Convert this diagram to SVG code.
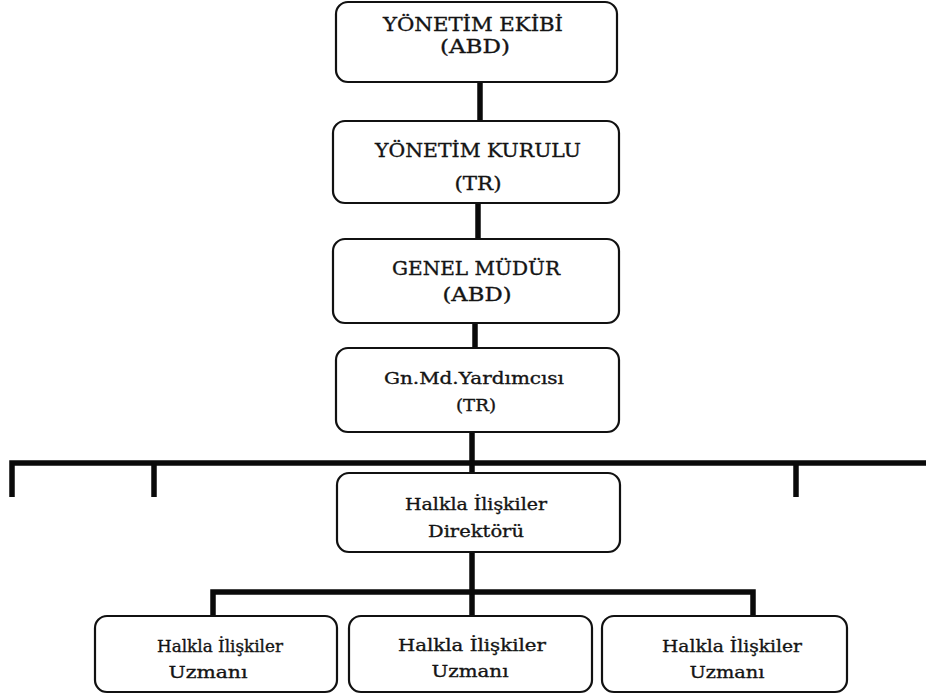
<svg xmlns="http://www.w3.org/2000/svg" width="926" height="697" viewBox="0 0 926 697">
  <style>
    .box { fill: #ffffff; stroke: #111111; stroke-width: 2.2; }
    .link { fill: none; stroke: #0a0a0a; stroke-width: 5.5; stroke-linejoin: miter; stroke-linecap: butt; }
    .t { font-family: "DejaVu Serif", "Liberation Serif", serif; fill: #141414; stroke: #141414; stroke-width: 0.35; text-anchor: middle; }
    .big { font-size: 19px; }
    .mid { font-size: 17px; }
  </style>
  <rect x="0" y="0" width="926" height="697" fill="#ffffff"/>

  <!-- connectors -->
  <g id="connectors">
    <path class="link" d="M480 82 V121"/>
    <path class="link" d="M478 203 V239"/>
    <path class="link" d="M475 323 V348"/>
    <path class="link" d="M472 432 V473"/>
    <path class="link" d="M12 497 V463 H926"/>
    <path class="link" d="M154 463 V497"/>
    <path class="link" d="M796 463 V497"/>
    <path class="link" d="M472 552 V616"/>
    <path class="link" d="M213 616 V592 H753 V616"/>
  </g>

  <g id="yonetim-ekibi">
    <rect class="box" x="336" y="2" width="281" height="80" rx="12"/>
    <text class="t big" x="473" y="31" textLength="180" lengthAdjust="spacingAndGlyphs">YÖNETİM EKİBİ</text>
    <text class="t big" x="475" y="53" textLength="70" lengthAdjust="spacingAndGlyphs">(ABD)</text>
  </g>

  <g id="yonetim-kurulu">
    <rect class="box" x="333" y="121" width="286" height="82" rx="12"/>
    <text class="t big" x="478" y="157" textLength="206" lengthAdjust="spacingAndGlyphs">YÖNETİM KURULU</text>
    <text class="t big" x="478" y="190" textLength="47" lengthAdjust="spacingAndGlyphs">(TR)</text>
  </g>

  <g id="genel-mudur">
    <rect class="box" x="333" y="239" width="286" height="84" rx="12"/>
    <text class="t big" x="476" y="275" textLength="168" lengthAdjust="spacingAndGlyphs">GENEL MÜDÜR</text>
    <text class="t big" x="477" y="301" textLength="69" lengthAdjust="spacingAndGlyphs">(ABD)</text>
  </g>

  <g id="gn-md-yardimcisi">
    <rect class="box" x="336" y="348" width="283" height="84" rx="12"/>
    <text class="t mid" x="474" y="384" textLength="180" lengthAdjust="spacingAndGlyphs">Gn.Md.Yardımcısı</text>
    <text class="t mid" x="476" y="411" textLength="40" lengthAdjust="spacingAndGlyphs">(TR)</text>
  </g>

  <g id="halkla-iliskiler-direktoru">
    <rect class="box" x="337" y="473" width="283" height="79" rx="12"/>
    <text class="t mid" x="476" y="510" textLength="142" lengthAdjust="spacingAndGlyphs">Halkla İlişkiler</text>
    <text class="t mid" x="476" y="537" textLength="96" lengthAdjust="spacingAndGlyphs">Direktörü</text>
  </g>

  <g id="uzman-1">
    <rect class="box" x="95" y="616" width="242" height="76" rx="12"/>
    <text class="t mid" x="220" y="652" textLength="126" lengthAdjust="spacingAndGlyphs">Halkla İlişkiler</text>
    <text class="t mid" x="208" y="678" textLength="79" lengthAdjust="spacingAndGlyphs">Uzmanı</text>
  </g>

  <g id="uzman-2">
    <rect class="box" x="349" y="616" width="243" height="76" rx="12"/>
    <text class="t mid" x="472" y="651" textLength="148" lengthAdjust="spacingAndGlyphs">Halkla İlişkiler</text>
    <text class="t mid" x="470" y="677" textLength="77" lengthAdjust="spacingAndGlyphs">Uzmanı</text>
  </g>

  <g id="uzman-3">
    <rect class="box" x="602" y="616" width="245" height="76" rx="12"/>
    <text class="t mid" x="732" y="652" textLength="140" lengthAdjust="spacingAndGlyphs">Halkla İlişkiler</text>
    <text class="t mid" x="727" y="678" textLength="75" lengthAdjust="spacingAndGlyphs">Uzmanı</text>
  </g>
</svg>
